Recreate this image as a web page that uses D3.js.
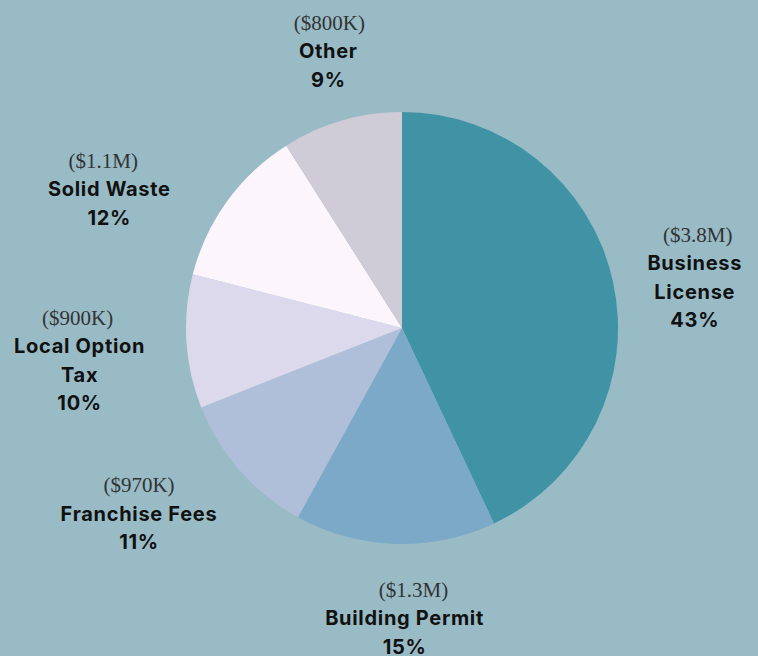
<!DOCTYPE html>
<html>
<head>
<meta charset="utf-8">
<script src="https://cdn.jsdelivr.net/npm/d3@7"></script>
<style>
  html, body { margin: 0; padding: 0; background: #98bbc6; }
  svg { display: block; }
</style>
</head>
<body>
<svg id="chart" width="758" height="656"></svg>
<script>
// ---- data ----
const categories = ["Business License", "Building Permit", "Franchise Fees", "Local Option Tax", "Solid Waste", "Other"];
const amounts = ["$3.8M", "$1.3M", "$970K", "$900K", "$1.1M", "$800K"];
const percents = [43, 15, 11, 10, 12, 9];
const nameLines = [["Business", "License"], ["Building Permit"], ["Franchise Fees"], ["Local Option", "Tax"], ["Solid Waste"], ["Other"]];

// ---- styling / layout ----
const colors = ["#4093a5", "#7ba9c7", "#afbed9", "#dcd9ec", "#fdf5fc", "#cfccd8"];
const labelNudge = [[0, -21], [12, -31], [-38, -34], [-23, -22], [-50, 16], [10, -10]];
const valueDx = [3, 9, 0, -2, -6, 1];

const cx = 402, cy = 328, R = 216, labelR = 300, lineH = 28.5;

const svg = d3.select("#chart");
const g = svg.append("g").attr("transform", `translate(${cx},${cy})`);

const data = categories.map((c, i) => ({ name: c, value: percents[i], i }));
const pie = d3.pie().value(d => d.value).sort(null);
const arcs = pie(data);
const arc = d3.arc().innerRadius(0).outerRadius(R);
const labelArc = d3.arc().innerRadius(labelR).outerRadius(labelR);

g.selectAll("path.slice")
  .data(arcs)
  .join("path")
  .attr("class", "slice")
  .attr("d", arc)
  .attr("fill", d => colors[d.data.i]);

const labels = g.selectAll("g.label")
  .data(arcs)
  .join("g")
  .attr("class", "label")
  .attr("transform", d => {
    const [x, y] = labelArc.centroid(d);
    const [dx, dy] = labelNudge[d.data.i];
    return `translate(${x + dx},${y + dy})`;
  });

labels.each(function(d) {
  const i = d.data.i;
  const sel = d3.select(this);
  sel.append("text")
    .attr("text-anchor", "middle")
    .attr("x", valueDx[i])
    .attr("y", 0)
    .attr("font-family", "'Liberation Serif', 'DejaVu Serif', serif")
    .attr("font-size", 21)
    .attr("fill", "#333")
    .text(`(${amounts[i]})`);
  const lines = nameLines[i].concat([`${percents[i]}%`]);
  lines.forEach((t, k) => {
    sel.append("text")
      .attr("text-anchor", "middle")
      .attr("y", lineH * (k + 1))
      .attr("font-family", "Inter, Lato, 'Noto Sans', sans-serif")
      .attr("font-weight", 700)
      .attr("font-size", 20)
      .attr("letter-spacing", "0.7px")
      .attr("fill", "#111")
      .text(t);
  });
});
</script>
</body>
</html>
